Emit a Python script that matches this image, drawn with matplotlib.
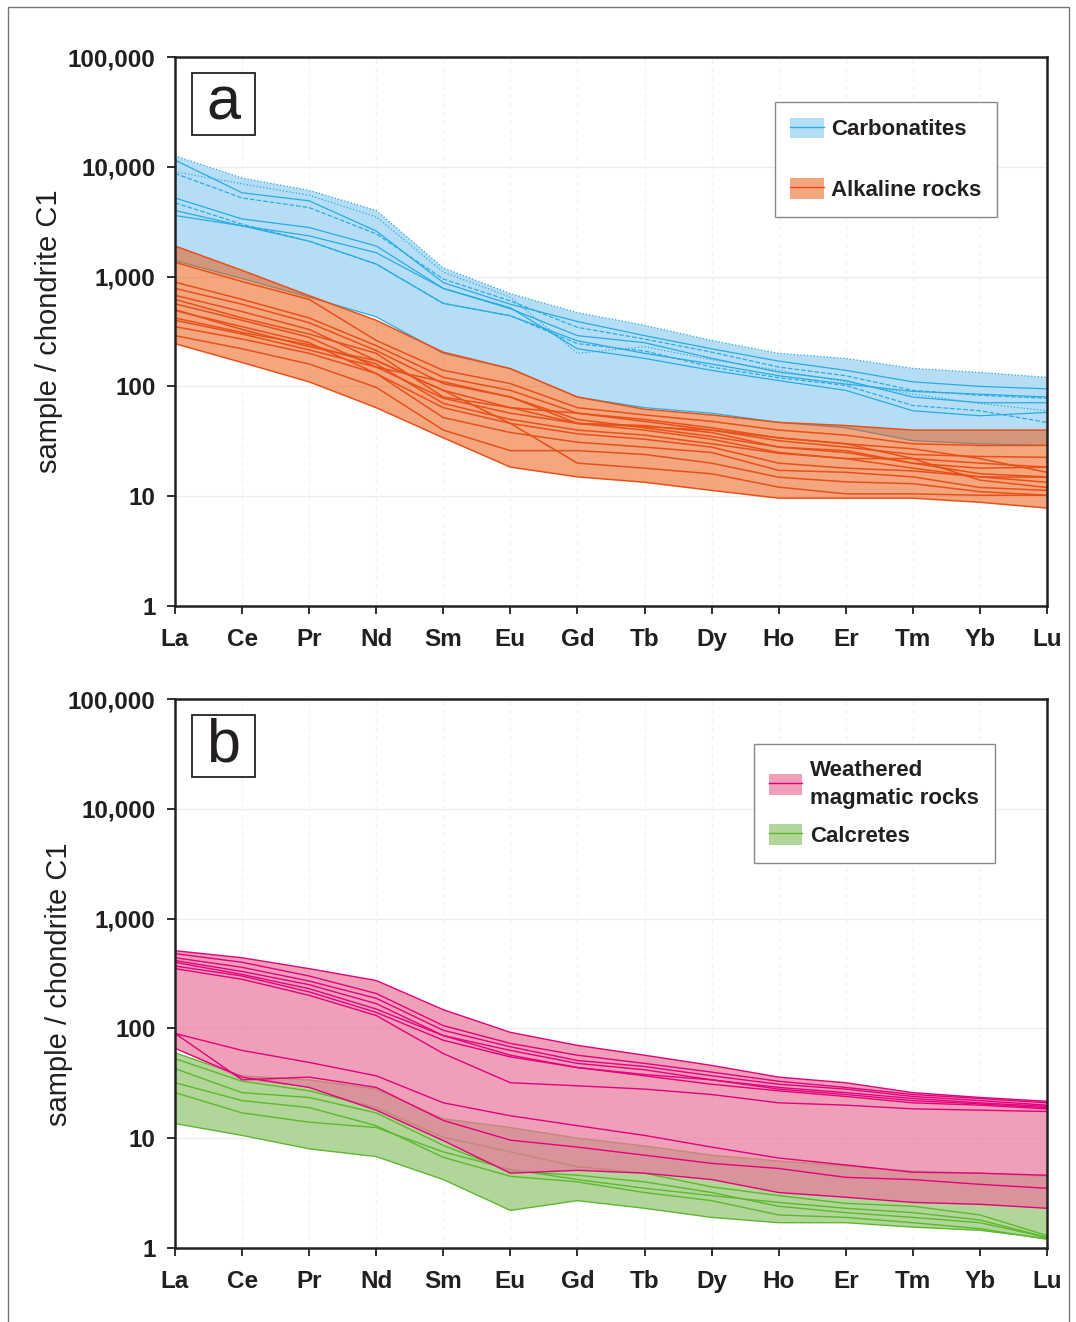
import numpy as np
import matplotlib
matplotlib.use("Agg")
import matplotlib.pyplot as plt
from matplotlib.patches import Patch, Rectangle
from matplotlib.lines import Line2D

plt.rcParams['font.family'] = ['Liberation Sans', 'DejaVu Sans']

elements = ["La", "Ce", "Pr", "Nd", "Sm", "Eu", "Gd", "Tb", "Dy", "Ho", "Er", "Tm", "Yb", "Lu"]
y_ticks = [1, 10, 100, 1000, 10000, 100000]
y_tick_labels = ["1", "10", "100", "1,000", "10,000", "100,000"]

# ---- panel a ----
carbonatites = [
    [12600, 7900, 6100, 4000, 1200, 700, 470, 360, 262, 200, 180, 146, 134, 121],
    [11500, 5800, 4900, 2600, 880, 560, 390, 290, 220, 170, 140, 110, 100, 95],
    [8700, 5200, 4250, 2450, 950, 600, 345, 270, 205, 150, 125, 92, 83, 78],
    [9000, 7000, 5500, 3500, 1100, 650, 200, 230, 175, 140, 110, 85, 70, 60],
    [5200, 3350, 2800, 1900, 780, 510, 290, 250, 180, 135, 113, 80, 71, 71],
    [4700, 3000, 2100, 1300, 570, 440, 245, 210, 150, 120, 102, 67, 60, 47],
    [4000, 2900, 2350, 1650, 780, 520, 220, 180, 140, 113, 92, 60, 54, 58],
    [3600, 2900, 2100, 1300, 570, 440, 260, 200, 160, 125, 105, 90, 85, 80],
    [1400, 960, 650, 430, 200, 145, 80, 64, 57, 47, 42, 32, 30, 29],
]
carbonatite_styles = [":", "-", "--", ":", "-", "--", "-", "-", "-"]

alkaline = [
    [1900, 1140, 670, 400, 205, 145, 80, 62, 55, 47, 44, 40, 40, 40],
    [1350, 900, 620, 262, 140, 106, 64, 55, 48, 40, 36, 30, 29, 29],
    [890, 620, 420, 235, 121, 92, 57, 48, 40, 32, 28, 24, 23, 22.6],
    [780, 560, 380, 212, 106, 80, 46, 44, 38, 28, 26, 20, 18, 18.4],
    [675, 480, 330, 172, 92, 64, 57, 50, 42, 34, 30, 27, 22, 16.5],
    [565, 400, 280, 150, 78, 57, 46, 40, 33, 25, 22, 18, 15, 14.9],
    [490, 350, 250, 131, 64, 46, 37, 33, 28, 20, 18, 17, 15, 13.4],
    [400, 300, 215, 150, 110, 80, 50, 42, 35, 28, 25, 20, 16, 15],
    [350, 270, 200, 131, 52, 38, 31, 28, 25, 17.2, 16.5, 15, 12, 11.3],
    [290, 220, 160, 98, 40, 26, 26, 24, 20, 14.9, 13.5, 13, 11, 10.2],
    [245, 165, 110, 64, 34, 18.4, 15, 13.4, 11.3, 9.6, 9.6, 9.6, 8.8, 7.8],
    [500, 330, 230, 172, 92, 46, 20, 18, 16, 12.1, 10.5, 10.5, 10.2, 10.2],
    [620, 420, 300, 200, 80, 64, 46, 43, 40, 34, 30, 22, 14, 12],
    [420, 310, 240, 160, 70, 50, 40, 36, 30, 24.6, 22, 22, 20, 18.4],
]

# ---- panel b ----
weathered = [
    [510, 440, 350, 273, 148, 92, 70, 57, 46, 36, 32, 26, 23.5, 21.7],
    [480, 400, 300, 208, 106, 73, 57, 48, 40, 33, 29, 25, 23, 21],
    [440, 360, 270, 188, 96, 68, 51, 45, 37, 31, 28, 24, 22, 20],
    [415, 330, 250, 168, 86, 63, 48, 42, 34, 29, 26, 23, 21, 19.5],
    [400, 310, 230, 150, 86, 57, 44, 38, 34, 28, 25, 22, 20.5, 19],
    [370, 300, 215, 140, 78, 55, 44, 37, 31, 27, 24, 21, 20, 18.5],
    [350, 280, 200, 131, 59, 32, 30, 28, 25, 21, 20, 18.5, 18, 17.5],
    [90, 63, 49, 37, 21, 16, 13, 10.6, 8.3, 6.6, 5.7, 4.9, 4.8, 4.6],
    [90, 34, 36, 29, 14.5, 9.6, 8.3, 7.0, 5.9, 5.3, 4.4, 4.2, 3.8, 3.5],
    [66, 36, 29, 18, 9.5, 4.8, 5.1, 4.8, 4.2, 3.2, 2.9, 2.6, 2.5, 2.3],
]

calcretes = [
    [60, 37, 34, 28, 15, 12.5, 10, 8.5, 7, 6.2, 5.6, 5.0, 4.8, 4.5],
    [53, 33, 27, 19, 10.2, 7.5, 5.5, 4.8, 3.6, 3.0, 2.55, 2.4, 2.0, 1.3],
    [43, 26, 23.5, 17, 8.6, 5.0, 4.6, 4.0, 3.2, 2.4, 2.1, 1.9, 1.7, 1.25],
    [32, 22, 19, 13, 6.7, 4.5, 4.0, 3.2, 2.7, 2.0, 1.9, 1.7, 1.5, 1.2],
    [26, 17, 14, 12.5, 7.5, 5.2, 4.2, 3.5, 3.0, 2.6, 2.3, 2.1, 1.8, 1.25],
    [13.6, 10.6, 8, 6.8, 4.2, 2.2, 2.7, 2.3, 1.9, 1.7, 1.7, 1.55, 1.45, 1.22],
]

TXT = "#231f20"


def draw_group(ax, data, fill_color, fill_alpha, line_color, lw, z, styles=None):
    arr = np.array(data, dtype=float)
    x = np.arange(len(elements))
    ax.fill_between(x, arr.min(axis=0), arr.max(axis=0), facecolor=fill_color,
                    alpha=fill_alpha, lw=0, zorder=z)
    for i, row in enumerate(arr):
        ls = styles[i] if styles else "-"
        ax.plot(x, row, color=line_color, lw=lw, ls=ls, zorder=z + 0.5)


def style_axes(ax, ylabel_x, ylabel_y):
    ax.set_yscale("log")
    ax.set_ylim(1, 100000)
    ax.set_xlim(0, len(elements) - 1)
    ax.set_yticks(y_ticks)
    ax.set_yticklabels(y_tick_labels)
    ax.minorticks_off()
    ax.set_xticks(np.arange(len(elements)))
    ax.set_xticklabels(elements)
    for lab in ax.get_xticklabels() + ax.get_yticklabels():
        lab.set_fontweight("bold")
        lab.set_fontsize(17.5)
        lab.set_color(TXT)
    ax.tick_params(axis="y", direction="out", length=6, width=1.3, pad=8, colors=TXT)
    ax.tick_params(axis="x", direction="out", length=6, width=1.3, pad=10, colors=TXT)
    for s in ax.spines.values():
        s.set_linewidth(1.8)
        s.set_color("#222222")
    ax.grid(axis="y", color="#ececec", lw=0.9, zorder=0)
    ax.grid(axis="x", color="#f2f2f2", lw=0.9, ls=(0, (4, 3)), zorder=0)
    ax.set_axisbelow(True)
    ax.set_ylabel("sample / chondrite C1", fontsize=21, color=TXT)
    ax.yaxis.set_label_coords(ylabel_x, ylabel_y)


def panel_letter(ax, letter):
    x0 = (192 - 175) / 872
    y0 = 1 - (135 - 57) / 549
    w = 63 / 872
    h = 62 / 549
    ax.add_patch(Rectangle((x0, y0), w, h, transform=ax.transAxes, facecolor="white",
                           edgecolor="#222222", lw=1.3, zorder=10))
    ax.text(x0 + w / 2, y0 + h / 2, letter, transform=ax.transAxes, ha="center",
            va="center", fontsize=44, color=TXT, zorder=11)


fig = plt.figure(figsize=(10.76, 13.22), dpi=100)
fig.add_artist(Rectangle((8 / 1076, -0.01), (1069 - 8) / 1076, 1.01 - 7 / 1322,
                         transform=fig.transFigure, fill=False, edgecolor="#777777", lw=1.0))

axa = fig.add_axes([175 / 1076, 1 - 606 / 1322, 872 / 1076, 549 / 1322])
axb = fig.add_axes([175 / 1076, 1 - 1248 / 1322, 872 / 1076, 549 / 1322])

blue_fill = "#b5def6"
blue_line = "#29abe2"
orange_fill = "#eb5e14"
orange_line = "#e8501a"
pink_fill = "#ea779b"
pink_line = "#e5007e"
green_fill = "#b2d69a"
green_line = "#5cb82e"

draw_group(axa, carbonatites, blue_fill, 1.0, blue_line, 0.9, 1, carbonatite_styles)
draw_group(axa, alkaline, orange_fill, 0.55, orange_line, 1.1, 2)
style_axes(axa, -0.128, 0.5)
panel_letter(axa, "a")

draw_group(axb, calcretes, green_fill, 1.0, green_line, 1.0, 1)
draw_group(axb, weathered, pink_fill, 0.7, pink_line, 1.0, 2)
style_axes(axb, -0.117, 0.48)
panel_letter(axb, "b")

leg_kw = dict(frameon=True, fancybox=False, edgecolor="#888888", framealpha=1,
              prop={"weight": "bold", "size": 16}, handlelength=1.5, handleheight=1.05,
              handletextpad=0.35, borderpad=0.7, borderaxespad=0)

ha = [(Patch(facecolor=blue_fill), Line2D([], [], color=blue_line, lw=1.0)),
      (Patch(facecolor=orange_fill, alpha=0.55), Line2D([], [], color=orange_line, lw=1.0))]
lega = axa.legend(ha, ["Carbonatites", "Alkaline rocks"], loc="upper right",
                  bbox_to_anchor=(0.943, 0.918), labelspacing=1.7, **leg_kw)
lega.get_frame().set_linewidth(1.0)
for t in lega.get_texts():
    t.set_color(TXT)
lega.set_zorder(12)

hb = [(Patch(facecolor=pink_fill, alpha=0.7), Line2D([], [], color=pink_line, lw=1.0)),
      (Patch(facecolor=green_fill), Line2D([], [], color=green_line, lw=1.0))]
legb = axb.legend(hb, ["Weathered\nmagmatic rocks", "Calcretes"], loc="upper right",
                  bbox_to_anchor=(0.940, 0.918), labelspacing=0.7, **leg_kw)
legb.get_frame().set_linewidth(1.0)
for t in legb.get_texts():
    t.set_color(TXT)
    t.set_linespacing(1.45)
legb.set_zorder(12)

fig.savefig("out.png", dpi=100)
